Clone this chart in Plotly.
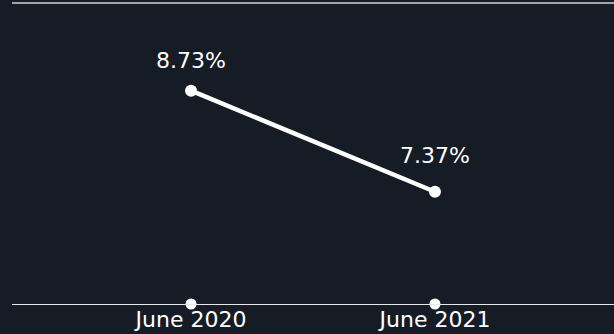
import plotly.graph_objects as go

# Rate at each observation date
periods = ["June 2020", "June 2021"]
rates = [8.73, 7.37]
rate_labels = ["8.73%", "7.37%"]

BG = "#161c26"
FONT = "DejaVu Sans"
Y_MIN, Y_MAX = 5.86, 9.91
LABEL_SHIFTS = [30, 36]  # px above each point

fig = go.Figure()

# Main line
fig.add_trace(go.Scatter(
    x=periods, y=rates,
    mode="lines+markers",
    line=dict(color="white", width=4.5),
    marker=dict(color="white", size=12),
    cliponaxis=False,
    hoverinfo="skip",
))

# Dots on the baseline at each period
fig.add_trace(go.Scatter(
    x=periods, y=[Y_MIN] * len(periods),
    mode="markers",
    marker=dict(color="white", size=11),
    cliponaxis=False,
    hoverinfo="skip",
))

# Value labels above each point
for p, r, lab, dy in zip(periods, rates, rate_labels, LABEL_SHIFTS):
    fig.add_annotation(
        x=p, y=r, text=lab, showarrow=False,
        yanchor="middle", yshift=dy,
        font=dict(color="white", size=22, family=FONT),
    )

# Top rule
fig.add_shape(type="line", xref="paper", yref="paper",
              x0=0, x1=1, y0=1, y1=1,
              line=dict(color="#a0a4ab", width=2))

fig.update_layout(
    width=614, height=334,
    paper_bgcolor=BG, plot_bgcolor=BG,
    margin=dict(l=12, r=0, t=3, b=30, autoexpand=False),
    showlegend=False,
    xaxis=dict(
        type="category",
        range=[-0.734, 1.734],
        showgrid=False, zeroline=False,
        showline=True, linecolor="#e8e8e8", linewidth=1,
        ticks="",
        automargin=False,
        ticklabelstandoff=-4,
        tickfont=dict(color="white", size=22, family=FONT),
        fixedrange=True,
    ),
    yaxis=dict(
        range=[Y_MIN, Y_MAX],
        showgrid=False, zeroline=False, showticklabels=False,
        automargin=False,
        fixedrange=True,
    ),
)

fig.write_html("out.html")
